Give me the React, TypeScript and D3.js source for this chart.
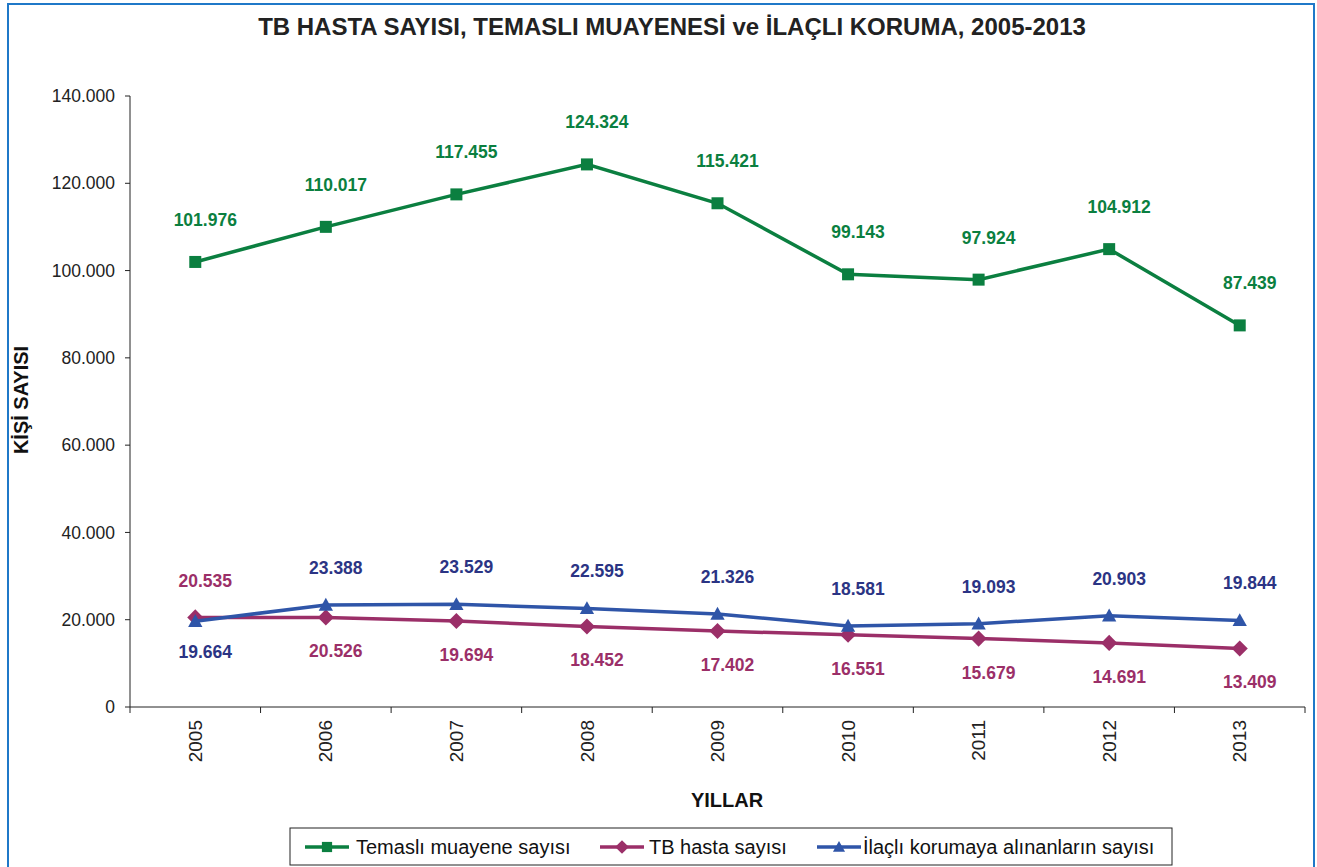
import React from "react";
import * as d3 from "d3";

const years = ["2005", "2006", "2007", "2008", "2009", "2010", "2011", "2012", "2013"];
const temasli = [101976, 110017, 117455, 124324, 115421, 99143, 97924, 104912, 87439];
const tbHasta = [20535, 20526, 19694, 18452, 17402, 16551, 15679, 14691, 13409];
const ilacli = [19664, 23388, 23529, 22595, 21326, 18581, 19093, 20903, 19844];
const yTicks = [0, 20000, 40000, 60000, 80000, 100000, 120000, 140000];

const GREEN = "#0b7f40";
const MAGENTA = "#9b2f68";
const BLUE = "#2f55a8";
const BLUE_TXT = "#2b3484";
const FONT = "'Liberation Sans', Arial, sans-serif";

const fmt = (v: number) => d3.format(",")(v).replace(/,/g, ".");

const Marker = ({ type, x, y, color, s }: { type: string; x: number; y: number; color: string; s: number }) => {
  if (type === "square") return <rect x={x - s / 2} y={y - s / 2} width={s} height={s} fill={color} />;
  if (type === "diamond") {
    const h = s * 0.62;
    return <path d={`M${x},${y - h}L${x + h},${y}L${x},${y + h}L${x - h},${y}Z`} fill={color} />;
  }
  const h = s * 0.55;
  return <path d={`M${x},${y - h}L${x + h},${y + h * 0.8}L${x - h},${y + h * 0.8}Z`} fill={color} />;
};

export default function App() {
  const left = 130, right = 1305, top = 96, bottom = 707;
  const x = d3.scaleBand().domain(years).range([left, right]);
  const y = d3.scaleLinear().domain([0, 140000]).range([bottom, top]);
  const cx = (d: string) => (x(d) as number) + x.bandwidth() / 2;

  // label offsets: above / below the point (labels sit a bit right of the marker)
  const series = [
    { name: "Temaslı muayene sayısı", values: temasli, color: GREEN, txt: GREEN, marker: "square", size: 12,
      off: () => -36 },
    { name: "TB hasta sayısı", values: tbHasta, color: MAGENTA, txt: MAGENTA, marker: "diamond", size: 13,
      off: (i: number) => (i === 0 ? -30 : 40) },
    { name: "İlaçlı korumaya alınanların sayısı", values: ilacli, color: BLUE, txt: BLUE_TXT, marker: "triangle", size: 13,
      off: (i: number) => (i === 0 ? 37 : -31) },
  ];
  const labelDx = 10;

  const line = d3.line<number>().x((_, i) => cx(years[i])).y((v) => y(v));

  const legendItems = [
    { x: 305, textX: 356 },
    { x: 600, textX: 649 },
    { x: 817, textX: 863 },
  ];

  return (
    <svg width={1317} height={867} style={{ position: "absolute", left: 0, top: 0, fontFamily: FONT }}>
      <rect x={0} y={0} width={1317} height={867} fill="#fff" />
      <rect x={8} y={4} width={1306} height={880} fill="none" stroke="#1f78c8" strokeWidth={2} />

      <text x={672} y={35} textAnchor="middle" fontSize={24} fontWeight="bold" fill="#222">
        TB HASTA SAYISI, TEMASLI MUAYENESİ ve İLAÇLI KORUMA, 2005-2013
      </text>

      {/* y axis */}
      <line x1={left} x2={left} y1={top} y2={bottom} stroke="#222" />
      {yTicks.map((t) => (
        <g key={t}>
          <line x1={left - 5} x2={left} y1={y(t)} y2={y(t)} stroke="#222" />
          <text x={115} y={y(t)} dy="0.35em" textAnchor="end" fontSize={17.5} fill="#222">
            {fmt(t)}
          </text>
        </g>
      ))}
      <text transform="translate(28,400) rotate(-90)" textAnchor="middle" fontSize={20} fontWeight="bold" fill="#111">
        KİŞİ SAYISI
      </text>

      {/* x axis */}
      <line x1={left} x2={right} y1={bottom} y2={bottom} stroke="#222" />
      {[...years.map((d) => x(d) as number), right].map((v, i) => (
        <line key={i} x1={v} x2={v} y1={bottom} y2={bottom + 6} stroke="#222" />
      ))}
      {years.map((d) => (
        <text key={d} transform={`translate(${cx(d)},720) rotate(-90)`} dy="0.35em" textAnchor="end" fontSize={19} fill="#222">
          {d}
        </text>
      ))}
      <text x={727} y={807} textAnchor="middle" fontSize={20} fontWeight="bold" fill="#111">
        YILLAR
      </text>

      {/* series */}
      {series.map((s) => (
        <g key={s.name}>
          <path d={line(s.values) || ""} fill="none" stroke={s.color} strokeWidth={3.5} />
          {s.values.map((v, i) => (
            <Marker key={i} type={s.marker} x={cx(years[i])} y={y(v)} color={s.color} s={s.size} />
          ))}
          {s.values.map((v, i) => (
            <text key={"t" + i} x={cx(years[i]) + labelDx} y={y(v) + s.off(i)} textAnchor="middle" fontSize={17.5} fontWeight="bold" fill={s.txt}>
              {fmt(v)}
            </text>
          ))}
        </g>
      ))}

      {/* legend */}
      <rect x={290} y={828} width={882} height={37} fill="#fff" stroke="#222" />
      {series.map((s, i) => (
        <g key={s.name}>
          <line x1={legendItems[i].x} x2={legendItems[i].x + 44} y1={847} y2={847} stroke={s.color} strokeWidth={3.5} />
          <Marker type={s.marker} x={legendItems[i].x + 22} y={847} color={s.color} s={s.size * 0.85} />
          <text x={legendItems[i].textX} y={847} dy="0.35em" fontSize={20} fill="#111">
            {s.name}
          </text>
        </g>
      ))}
    </svg>
  );
}
